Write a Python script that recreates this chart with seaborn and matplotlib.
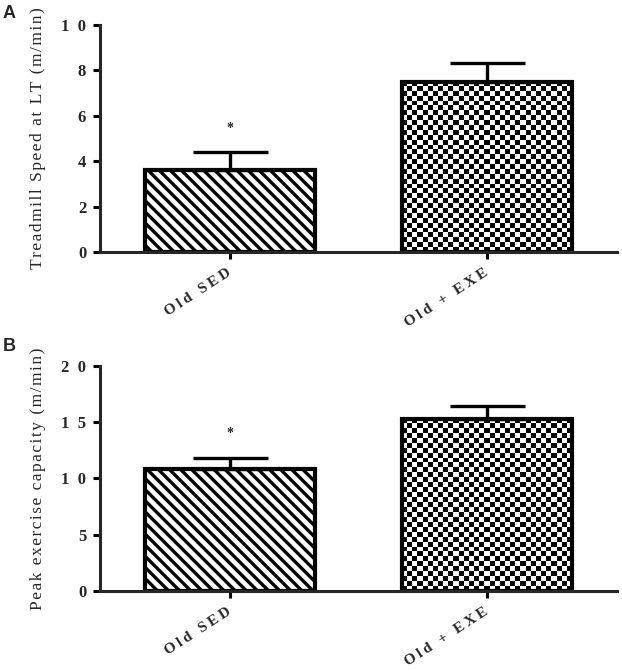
import numpy as np
import pandas as pd
import matplotlib
matplotlib.use("Agg")
import matplotlib.pyplot as plt
import seaborn as sns

# data (mean + SEM, upward error bars only)
groups = ["Old SED", "Old + EXE"]
lt_speed_mean = [3.62, 7.50]
lt_speed_sem = [0.78, 0.82]
peak_cap_mean = [10.8, 15.3]
peak_cap_sem = [1.05, 1.15]
signif = ["*", ""]

sns.set_style("ticks")
plt.rcParams["font.family"] = ["Liberation Serif", "DejaVu Serif"]
plt.rcParams["hatch.linewidth"] = 2.4
plt.rcParams["hatch.color"] = "black"

SP = "\u2009"


def spaced(s, sep=SP):
    return sep.join(s)


def checker(ax, patch, n_cols=33):
    # checkerboard texture clipped to the bar outline
    x0, y0 = patch.get_x(), patch.get_y()
    x1, y1 = x0 + patch.get_width(), y0 + patch.get_height()
    p0 = ax.transData.transform((x0, y0))
    p1 = ax.transData.transform((x1, y1))
    w_px, h_px = abs(p1[0] - p0[0]), abs(p1[1] - p0[1])
    n_rows = max(1, int(round(n_cols * h_px / w_px * 1.05)))
    img = np.add.outer(np.arange(n_rows), np.arange(n_cols)) % 2
    im = ax.imshow(img, cmap="gray", extent=(x0, x1, y0, y1), aspect="auto",
                   interpolation="nearest", zorder=0.5)
    im.set_clip_path(patch)
    patch.set_facecolor("none")


def panel(ax, means, sems, ymax, step, ylabel, letter, letter_y):
    df = pd.DataFrame({"group": groups, "value": means})
    sns.barplot(data=df, x="group", y="value", ax=ax, color="white",
                edgecolor="black", linewidth=3.0, width=0.66, errorbar=None,
                saturation=1)
    ax.set_xlim(-0.506, 1.506)
    ax.set_ylim(0, ymax)
    bars = ax.patches
    for b in bars:
        b.set_facecolor("white")
        b.set_edgecolor("black")
        b.set_zorder(2)
    bars[0].set_hatch("\\\\\\")
    checker(ax, bars[1])

    ax.errorbar(range(len(groups)), means, yerr=[[0] * len(sems), sems],
                fmt="none", ecolor="black", elinewidth=2.4, capsize=27,
                capthick=2.4, zorder=3)
    for i, s in enumerate(signif):
        if s:
            ax.text(i, means[i] + sems[i] + 0.105 * ymax, s, ha="center",
                    va="center", fontsize=10, fontweight="bold")

    sns.despine(ax=ax)
    for side in ["left", "bottom"]:
        ax.spines[side].set_linewidth(2.2)
    ticks = np.arange(0, ymax + 0.1, step)
    ax.set_yticks(ticks)
    ax.set_yticklabels([spaced(str(int(t)), "\u2002") for t in ticks],
                       fontsize=12, fontweight="bold")
    ax.set_xticks(range(len(groups)))
    ax.set_xticklabels([spaced(g) for g in groups], fontsize=11,
                       fontweight="bold", rotation=33, ha="right",
                       va="center", rotation_mode="anchor")
    ax.tick_params(axis="both", length=5, width=2.2, pad=5, color="black")
    ax.tick_params(axis="x", pad=9)
    ax.set_xlabel("")
    ax.set_ylabel(spaced(ylabel, "\u200a"), fontsize=12.5)
    ax.yaxis.set_label_coords(-0.105, 0.5)
    ax.text(-0.188, letter_y, letter, transform=ax.transAxes, fontsize=13,
            fontweight="bold", family="Liberation Sans", ha="left", va="top")


fig = plt.figure(figsize=(6.22, 6.71), dpi=100)
ax_a = fig.add_axes([0.1608, 0.6244, 0.8312, 0.3383])
ax_b = fig.add_axes([0.1608, 0.1192, 0.8312, 0.3358])

panel(ax_a, lt_speed_mean, lt_speed_sem, 10, 2,
      "Treadmill Speed at LT (m/min)", "A", 1.09)
panel(ax_b, peak_cap_mean, peak_cap_sem, 20, 5,
      "Peak exercise capacity (m/min)", "B", 1.125)

fig.savefig("out.png", dpi=100)
